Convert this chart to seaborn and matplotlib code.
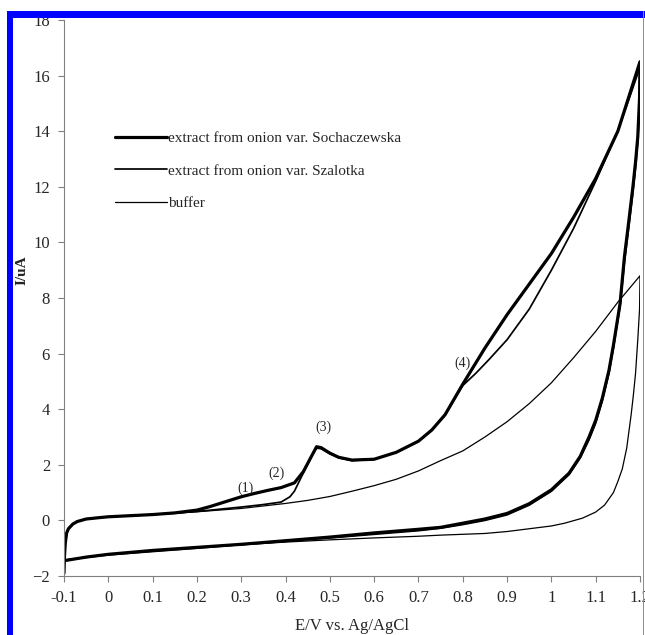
import numpy as np
import pandas as pd
import matplotlib
matplotlib.use("Agg")
import matplotlib.pyplot as plt
import seaborn as sns
from matplotlib.patches import Rectangle

# ---------------- data ----------------
series_names = ["extract from onion var. Sochaczewska",
                "extract from onion var. Szalotka",
                "buffer"]

soch_fwd_E = [-0.1, -0.099, -0.097, -0.094, -0.09, -0.08, -0.07, -0.05, -0.02, 0.0, 0.05, 0.1, 0.15, 0.2,
              0.23, 0.26, 0.3, 0.33, 0.36, 0.39, 0.42, 0.44, 0.455, 0.47, 0.48, 0.5, 0.52, 0.55, 0.6, 0.65,
              0.7, 0.73, 0.76, 0.8, 0.85, 0.9, 0.95, 1.0, 1.05, 1.1, 1.15, 1.2]
soch_fwd_I = [-1.9, -1.3, -0.8, -0.45, -0.3, -0.13, -0.04, 0.05, 0.1, 0.13, 0.17, 0.21, 0.27, 0.37,
              0.5, 0.65, 0.85, 0.97, 1.08, 1.18, 1.35, 1.75, 2.2, 2.65, 2.62, 2.42, 2.27, 2.17, 2.2, 2.45,
              2.85, 3.25, 3.8, 4.9, 6.2, 7.4, 8.5, 9.6, 10.9, 12.3, 14.0, 16.5]
soch_rev_E = [1.2, 1.199, 1.195, 1.19, 1.184, 1.175, 1.165, 1.155, 1.14, 1.13, 1.115, 1.1, 1.085, 1.065,
              1.04, 1.0, 0.95, 0.9, 0.85, 0.8, 0.75, 0.7, 0.6, 0.5, 0.4, 0.3, 0.2, 0.1, 0.0, -0.05, -0.1]
soch_rev_I = [16.5, 15.2, 13.8, 12.9, 12.0, 10.8, 9.5, 7.8, 6.3, 5.4, 4.4, 3.6, 3.0, 2.3,
              1.7, 1.1, 0.6, 0.25, 0.05, -0.1, -0.25, -0.32, -0.45, -0.6, -0.73, -0.86, -0.97, -1.08, -1.22,
              -1.32, -1.45]

szal_fwd_E = [-0.1, -0.099, -0.097, -0.094, -0.09, -0.08, -0.07, -0.05, -0.02, 0.0, 0.05, 0.1, 0.15, 0.2,
              0.25, 0.3, 0.35, 0.39, 0.41, 0.42, 0.44, 0.46, 0.47, 0.48, 0.5, 0.52, 0.55, 0.6, 0.65, 0.7,
              0.73, 0.76, 0.8, 0.83, 0.86, 0.9, 0.95, 1.0, 1.05, 1.1, 1.15, 1.2]
szal_fwd_I = [-1.9, -1.3, -0.8, -0.45, -0.3, -0.13, -0.04, 0.05, 0.1, 0.13, 0.17, 0.21, 0.26, 0.32,
              0.4, 0.48, 0.57, 0.66, 0.85, 1.05, 1.7, 2.35, 2.6, 2.58, 2.4, 2.25, 2.15, 2.2, 2.45, 2.85,
              3.25, 3.8, 4.85, 5.3, 5.8, 6.5, 7.6, 9.0, 10.5, 12.2, 14.0, 16.3]
szal_rev_E = [1.2, 1.199, 1.195, 1.19, 1.184, 1.175, 1.165, 1.155, 1.14, 1.13, 1.115, 1.1, 1.085, 1.065,
              1.04, 1.0, 0.95, 0.9, 0.85, 0.8, 0.75, 0.7, 0.6, 0.5, 0.4, 0.3, 0.2, 0.1, 0.0, -0.05, -0.1]
szal_rev_I = [16.3, 15.0, 13.6, 12.7, 11.8, 10.6, 9.3, 7.7, 6.2, 5.3, 4.3, 3.5, 2.9, 2.25,
              1.65, 1.05, 0.55, 0.2, 0.0, -0.15, -0.28, -0.37, -0.5, -0.63, -0.75, -0.87, -1.0, -1.12, -1.24,
              -1.33, -1.44]

buf_fwd_E = [-0.1, -0.099, -0.097, -0.094, -0.09, -0.08, -0.07, -0.05, -0.02, 0.0, 0.05, 0.1, 0.15, 0.2,
             0.25, 0.3, 0.35, 0.4, 0.45, 0.5, 0.55, 0.6, 0.65, 0.7, 0.75, 0.8, 0.85, 0.9, 0.95, 1.0, 1.05,
             1.1, 1.15, 1.2]
buf_fwd_I = [-1.9, -1.3, -0.8, -0.45, -0.3, -0.13, -0.04, 0.05, 0.1, 0.13, 0.17, 0.21, 0.26, 0.31,
             0.37, 0.43, 0.52, 0.61, 0.72, 0.86, 1.05, 1.25, 1.48, 1.78, 2.15, 2.5, 3.0, 3.55, 4.2, 4.95, 5.85,
             6.8, 7.85, 8.8]
buf_rev_E = [1.2, 1.199, 1.195, 1.19, 1.185, 1.18, 1.17, 1.16, 1.15, 1.14, 1.12, 1.1, 1.07, 1.03, 1.0,
             0.95, 0.9, 0.85, 0.8, 0.75, 0.7, 0.6, 0.5, 0.4, 0.3, 0.2, 0.1, 0.0, -0.05, -0.1]
buf_rev_I = [8.8, 7.6, 6.5, 5.3, 4.5, 3.8, 2.6, 1.85, 1.4, 1.0, 0.55, 0.3, 0.08, -0.1, -0.2,
             -0.3, -0.4, -0.47, -0.5, -0.53, -0.57, -0.63, -0.7, -0.78, -0.88, -0.98, -1.1, -1.23, -1.32, -1.42]

peak_labels = ["(1)", "(2)", "(3)", "(4)"]
peak_E = [0.309, 0.379, 0.485, 0.80]
peak_I = [1.15, 1.69, 3.35, 5.65]

x_ticks = [-0.1, 0.0, 0.1, 0.2, 0.3, 0.4, 0.5, 0.6, 0.7, 0.8, 0.9, 1.0, 1.1, 1.2]
x_tick_labels = ["-0.1", "0", "0.1", "0.2", "0.3", "0.4", "0.5", "0.6", "0.7", "0.8", "0.9", "1", "1.1", "1.2"]
y_ticks = [-2, 0, 2, 4, 6, 8, 10, 12, 14, 16, 18]

# ---------------- build table ----------------
frames = []
for name, Ef, If, Er, Ir in [
    (series_names[2], buf_fwd_E, buf_fwd_I, buf_rev_E, buf_rev_I),
    (series_names[1], szal_fwd_E, szal_fwd_I, szal_rev_E, szal_rev_I),
    (series_names[0], soch_fwd_E, soch_fwd_I, soch_rev_E, soch_rev_I),
]:
    E = list(Ef) + list(Er)
    I = list(If) + list(Ir)
    frames.append(pd.DataFrame({"E": E, "I": I, "series": name, "order": range(len(E))}))
df = pd.concat(frames, ignore_index=True)

# ---------------- plotting ----------------
sns.set_style("white")
plt.rcParams["font.family"] = ["Liberation Serif", "DejaVu Serif"]

fig = plt.figure(figsize=(6.45, 6.35), dpi=100)
ax = fig.add_axes([64 / 645, 1 - 576 / 635, 576 / 645, 556 / 635])

widths = {series_names[0]: 2.3, series_names[1]: 1.25, series_names[2]: 0.9}
lines = {}
for name in [series_names[2], series_names[1], series_names[0]]:
    sub = df[df["series"] == name]
    sns.lineplot(data=sub, x="E", y="I", sort=False, estimator=None, color="black",
                 linewidth=widths[name], ax=ax, label=name, legend=False)
    lines[name] = ax.lines[-1]

ax.set_xlim(-0.1, 1.2)
ax.set_ylim(-2, 18)
ax.set_xticks(x_ticks)
ax.set_xticklabels(x_tick_labels)
ax.set_yticks(y_ticks)
ax.tick_params(axis="both", direction="out", length=4, width=0.8, color="#808080",
               labelsize=12, pad=6, bottom=True, left=True)
for s in ["top", "right"]:
    ax.spines[s].set_visible(False)
for s in ["left", "bottom"]:
    ax.spines[s].set_color("#808080")
    ax.spines[s].set_linewidth(0.8)

ax.set_xlabel("E/V vs. Ag/AgCl", fontsize=12, labelpad=8.5)
ax.set_ylabel("")
fig.text(22 / 645, 1 - 270 / 635, "I/uA", rotation=90, ha="center", va="center",
         fontsize=11, fontweight="bold")

for lab, e, i in zip(peak_labels, peak_E, peak_I):
    ax.text(e, i, lab, ha="center", va="center", fontsize=10)

handles = [lines[n] for n in series_names]
leg = ax.legend(handles, series_names, loc="upper left", bbox_to_anchor=(0.0885, 0.80),
                frameon=False, fontsize=11, handlelength=3.4, handletextpad=0.1,
                labelspacing=1.25, borderpad=0, borderaxespad=0)

# blue frame around the picture
fig.patches.append(Rectangle((7 / 645, 0), 6 / 645, 1 - 11 / 635, transform=fig.transFigure,
                             facecolor="#0000ff", edgecolor="none"))
fig.patches.append(Rectangle((7 / 645, 1 - 18 / 635), 638 / 645, 7 / 635, transform=fig.transFigure,
                             facecolor="#0000ff", edgecolor="none"))
fig.patches.append(Rectangle((643 / 645, 0), 1.2 / 645, 1 - 11 / 635, transform=fig.transFigure,
                             facecolor="#8080ff", edgecolor="none"))

fig.savefig("out.png", dpi=100)
